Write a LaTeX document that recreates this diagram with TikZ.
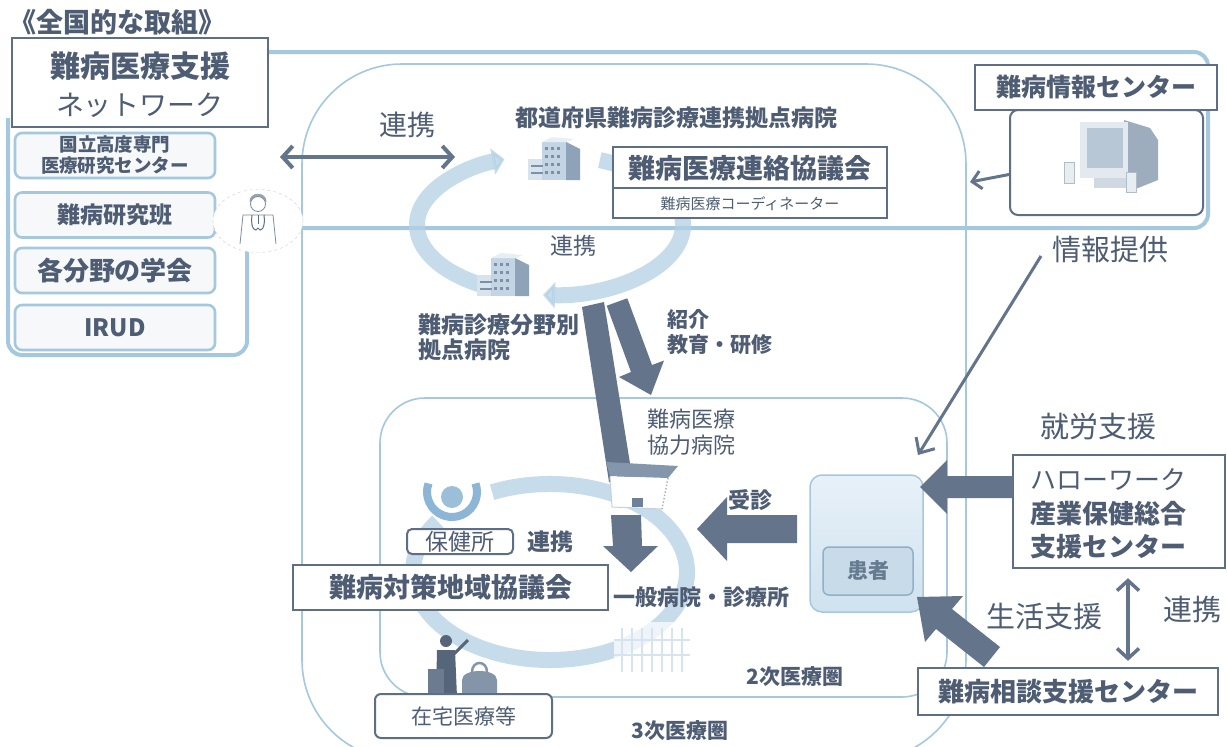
\documentclass[tikz,border=0pt]{standalone}
\usepackage{fontspec}
\setmainfont{Noto Sans CJK JP}
\usetikzlibrary{arrows.meta,shapes.geometric,calc}

\definecolor{ink}{HTML}{4E5D73}
\definecolor{boxline}{HTML}{5E6E85}
\definecolor{fatc}{HTML}{64748B}
\definecolor{sky}{HTML}{A5C8DF}
\definecolor{ringc}{HTML}{B3D1E5}
\definecolor{paper}{HTML}{F6F8FA}
\definecolor{bldgLight}{HTML}{D7E4EE}
\definecolor{bldgMid}{HTML}{C3D5E4}
\definecolor{bldgDark}{HTML}{8EA2B8}
\definecolor{bldgWin}{HTML}{7D90A6}
\definecolor{patTop}{HTML}{E8F1F8}
\definecolor{patBot}{HTML}{CFE2EF}
\definecolor{caseSide}{HTML}{9EADBE}
\definecolor{bezel}{HTML}{E3E9EF}
\definecolor{screenc}{HTML}{B7C7D6}
\definecolor{standc}{HTML}{D0D9E2}
\definecolor{spk}{HTML}{E8EDF2}
\definecolor{spkline}{HTML}{B0BCC8}
\definecolor{hairc}{HTML}{98A4B2}
\definecolor{sketch}{HTML}{7F8C9C}
\definecolor{boxlid}{HTML}{8496AB}
\definecolor{boxedge}{HTML}{C5D0DC}
\definecolor{boxdot}{HTML}{9FB0C2}
\definecolor{boxdark}{HTML}{6F8198}
\definecolor{hcHead}{HTML}{9BBFD9}
\definecolor{hcArc}{HTML}{8DB5D5}
\definecolor{suit}{HTML}{55657A}
\definecolor{caseC}{HTML}{6C7B90}
\definecolor{bagC}{HTML}{8495AA}
\definecolor{patLine}{HTML}{8FB0C8}
\definecolor{patFill}{HTML}{C7DBE9}
\definecolor{patText}{HTML}{667A90}

\newcommand{\fsz}[1]{\fontsize{#1}{#1}\selectfont}

\tikzset{
  bldg/.pic={
    \fill[bldgLight] (-28,-2) rectangle (-6,19);
    \fill[bldgMid] (-14,-19) rectangle (10,19);
    \fill[bldgDark] (10,-19) -- (24,-12) -- (24,19) -- (10,19) -- cycle;
    \fill[bldgLight!60] (-14,-19) -- (-4,-24) -- (18,-22) -- (10,-19) -- cycle;
    \foreach \xx in {-11,-5,1} \foreach \yy in {-14,-6,2,10} \fill[bldgWin] (\xx,\yy) rectangle ++(3,3);
    \foreach \yy in {4,11} \fill[bldgWin] (-25,\yy) rectangle ++(12,2);
  }
}

\begin{document}
\begin{tikzpicture}[x=1pt,y=-1pt,
  lbl/.style={inner sep=0pt, text=ink},
  darkbox/.style={draw=boxline, line width=2.4pt, fill=white, inner sep=0pt, text=ink},
  softbox/.style={draw=sky, line width=2.6pt, fill=paper, rounded corners=7pt, inner sep=0pt,
                  minimum width=200pt, minimum height=45pt, text=ink},
  region/.style={draw=sky, line width=1.6pt},
  band/.style={draw=sky, line width=4pt},
  ringarc/.style={draw=ringc, line width=16pt, opacity=0.75},
  bigarrow/.style={fill=fatc, draw=none},
  slim/.style={draw=fatc, line width=4pt},
  slimthin/.style={draw=fatc, line width=3pt},
  barb/.tip={Straight Barb[length=10pt,width=22pt]},
]
\useasboundingbox (0,0) rectangle (1227,747);
\fill[white] (0,0) rectangle (1227,747);

% ---- regional outlines: tertiary and secondary medical areas
\draw[region, rounded corners=100pt] (302,64) rectangle (966,760);
\draw[region, rounded corners=45pt] (380,398) rectangle (947,697);

% ---- national network band
\draw[band, rounded corners=14pt] (268,52) -- (1208,52) -- (1208,228) -- (247,228) -- (247,355) -- (8,355) -- (8,118);

% ---- cooperation rings
\draw[ringarc, -{Triangle[width=26pt,length=12pt]}] (550,225) ++(120:133 and 70)
  arc[start angle=120, end angle=250, x radius=133, y radius=70];
\draw[ringarc, -{Triangle[width=26pt,length=12pt]}] (550,225) ++(292:133 and 70)
  arc[start angle=292, end angle=453, x radius=133, y radius=70];
\draw[ringarc] (550,572) ++(245:137 and 88)
  arc[start angle=245, end angle=575, x radius=137, y radius=88];

% ---- hospital buildings on the prefecture ring
\pic at (556,161) {bldg};
\pic at (505,277) {bldg};

% ---- faint clinic building on the local ring
\begin{scope}[draw=bldgLight, line width=1.2pt]
  \fill[white, opacity=0.7] (614,622) rectangle (690,673);
  \foreach \xx in {622,632,642,652,662,672,682} \draw (\xx,628) -- (\xx,672);
  \draw (614,640) -- (690,640);
  \draw (614,655) -- (690,655);
\end{scope}

% ---- information centre: body with computer
\node[draw=boxline, line width=2pt, fill=white, rounded corners=8pt, minimum width=193pt,
      minimum height=105pt, inner sep=0pt] (infoBody) at (1106.5,162.5) {};
\fill[caseSide] (1124,120) -- (1150,128) -- (1158,140) -- (1158,180) -- (1128,192) -- cycle;
\fill[bezel] (1080,122) rectangle (1128,178);
\fill[screenc] (1087,128) rectangle (1123,168);
\fill[standc] (1094,178) rectangle (1132,188);
\fill[spk] (1064,162) rectangle (1074,183);
\draw[spkline, line width=0.8pt] (1064,162) rectangle (1074,183);
\fill[spk] (1126,172) rectangle (1136,192);
\draw[spkline, line width=0.8pt] (1126,172) rectangle (1136,192);
\node[darkbox, minimum width=242pt, minimum height=45pt, font=\fsz{25}\bfseries] (infoC) at (1096,87.5) {難病情報センター};
\coordinate (infoTip) at (970,182);
\draw[slimthin, -{Straight Barb[length=9pt,width=18pt]}] ($(infoBody.west)+(0,12)$) -- (infoTip);

% ---- left column: national network
\node[lbl, font=\fsz{27}\bfseries, anchor=west] (title) at (9,22) {《全国的な取組》};
\node[darkbox, minimum width=256pt, minimum height=89pt] (netbox) at (140,82.5) {};
\node[lbl, font=\fsz{30}\bfseries] (netA) at (140,66) {難病医療支援};
\node[lbl, font=\fsz{28}] (netB) at (140,105) {ネットワーク};
\node[softbox, font=\fontsize{18.5}{21}\selectfont\bfseries, align=center] (ncnc) at (115,155.5) {国立高度専門\\医療研究センター};
\node[softbox, font=\fsz{23}\bfseries] (study) at (115,215) {難病研究班};
\node[softbox, font=\fsz{26}\bfseries] (soc) at (115,270.5) {各分野の学会};
\node[softbox, font=\fsz{24}\bfseries] (irud) at (115,327.5) {IRUD};

% ---- doctor portrait
\node[draw=gray!40, dashed, ellipse, fill=white, minimum width=90pt, minimum height=63pt] (doc) at (258,221) {};
\fill[hairc] (249.5,202) .. controls (249,191) and (267,191) .. (266.5,202) -- cycle;
\draw[sketch, fill=white, line width=0.8pt] (258,204) circle (7.5);
\draw[sketch, fill=white, line width=0.8pt] (240,244) -- (243,215) -- (273,215) -- (276,244);
\draw[boxline, line width=1pt] (252,215) .. controls (250,229) and (256,233) .. (258,228);
\draw[boxline, line width=1pt] (264,215) .. controls (266,229) and (260,233) .. (258,228);
\draw[boxline, line width=1pt] (258,215) -- (258,224);

% ---- national cooperation arrow
\coordinate (natL) at (280,157);
\coordinate (natR) at (455,157);
\draw[slim, barb-barb] (natL) -- (natR);
\node[lbl, font=\fsz{28}] (natLink) at (407,125) {連携};

% ---- prefecture level
\node[lbl, font=\fsz{23}\bfseries] (prefHosp) at (676,118) {都道府県難病診療連携拠点病院};
\node[darkbox, minimum width=274pt, minimum height=71pt] (council) at (750,182.5) {};
\draw[boxline, line width=1.8pt] (613,188) -- (887,188);
\node[lbl, font=\fsz{27}\bfseries] (councilT) at (750,168) {難病医療連絡協議会};
\node[lbl, font=\fsz{15}] (coord) at (750,204) {難病医療コーディネーター};
\node[lbl, font=\fsz{23}] (ringLink) at (573,246) {連携};

% ---- referral arrows
\fill[bigarrow] (582,307) -- (604,302) -- (633,482) -- (609,482) -- cycle;
\fill[bigarrow] (606.7,305.7) -- (627.3,298.3) -- (652,365) -- (664,360.5) -- (651,395) -- (619,377) -- (631,372) -- cycle;
\fill[bigarrow] (611,515) -- (641,515) -- (642,546) -- (658,546) -- (631,572) -- (603,546) -- (613,546) -- cycle;

% ---- cooperating hospital (box building)
\fill[white] (610,476) -- (668,478) -- (662,509) -- (612,507) -- cycle;
\draw[boxedge, line width=1pt] (610,476) -- (612,507) -- (662,509);
\draw[boxdot, line width=1.4pt, dotted] (668,478) -- (662,509);
\fill[boxlid] (606,462) -- (678,466) -- (668,478) -- (610,476) -- cycle;
\fill[boxdark] (632,498) rectangle (643,507);

\node[lbl, font=\fontsize{23}{25}\selectfont\bfseries, align=left, anchor=west] (bunya) at (418,337.5) {難病診療分野別\\拠点病院};
\node[lbl, font=\fontsize{21}{25}\selectfont\bfseries, align=left, anchor=west] (shokai) at (667,332) {紹介\\教育・研修};
\node[lbl, font=\fontsize{22}{26}\selectfont, align=left, anchor=west] (kyoryoku) at (647,432) {難病医療\\協力病院};

% ---- health centre icon
\fill[hcHead] (452,497) circle (11);
\draw[hcArc, line width=8pt] (452,492) ++(200:25) arc[start angle=200, end angle=-20, radius=25];

% ---- local level
\node[draw=boxline, line width=2pt, rounded corners=5pt, fill=white, minimum width=106pt,
      minimum height=25pt, inner sep=0pt, font=\fsz{23}, text=ink] (hoken) at (460,541.5) {保健所};
\node[lbl, font=\fsz{23}\bfseries] (localLink) at (550,542) {連携};
\node[darkbox, minimum width=315pt, minimum height=45pt, font=\fsz{27}\bfseries] (localC) at (450.5,587.5) {難病対策地域協議会};
\node[lbl, font=\fsz{22}\bfseries] (general) at (701,597) {一般病院・診療所};

% ---- home care figures
\fill[suit] (446,641) circle (6);
\fill[suit] (437,650) -- (455,650) -- (457,697) -- (436,697) -- cycle;
\draw[suit, line width=3pt] (454,654) -- (468,640);
\fill[caseC] (428,669) rectangle (444,697);
\fill[bagC] (462,697) -- (462,680) .. controls (462,668) and (497,668) .. (497,680) -- (497,697) -- cycle;
\draw[bagC, line width=2.5pt] (472,672) .. controls (472,660) and (487,660) .. (487,672);
\node[draw=boxline, line width=2pt, rounded corners=6pt, fill=white, minimum width=177pt,
      minimum height=44pt, inner sep=0pt, font=\fsz{21}, text=ink] (home) at (463.5,716) {在宅医療等};

\node[lbl, font=\fsz{21}\bfseries] (tertiary) at (680,731) {3次医療圏};
\node[lbl, font=\fsz{21}\bfseries] (secondary) at (795,677) {2次医療圏};

% ---- patient
\node[draw=sky, line width=1.5pt, rounded corners=12pt, top color=patTop, bottom color=patBot,
      minimum width=113pt, minimum height=137pt, inner sep=0pt] (patient) at (866.5,543.5) {};
\node[draw=patLine, line width=1.5pt, rounded corners=6pt, fill=patFill, minimum width=90pt,
      minimum height=48pt, inner sep=0pt, font=\fsz{21}\bfseries, text=patText] (patientLbl) at (868,571) {患者};

% ---- consultation arrow into the patient
\fill[bigarrow] (797,515) -- (727,515) -- (727,497) -- (697,529) -- (727,561) -- (727,543) -- (797,543) -- cycle;
\node[lbl, font=\fsz{22}\bfseries] (jushin) at (750,500) {受診};

% ---- information provision
\node[lbl, font=\fsz{29}] (infoProv) at (1110,250) {情報提供};
\coordinate (provTail) at (1041,256);
\coordinate (patIn) at (918,455);
\draw[slimthin, -{Straight Barb[length=12pt,width=22pt]}] (provTail) -- (patIn);

% ---- employment support
\node[lbl, font=\fsz{29}] (work) at (1098,427) {就労支援};
\node[darkbox, minimum width=212pt, minimum height=113pt] (hello) at (1119,511.5) {};
\node[lbl, font=\fontsize{26}{33.5}\selectfont, align=left, anchor=west] (helloT) at (1030,514)
  {ハローワーク\\\textbf{産業保健総合}\\\textbf{支援センター}};
\fill[bigarrow] (1013,476) -- (947,476) -- (947,460) -- (920,487) -- (947,514) -- (947,498) -- (1013,498) -- cycle;

% ---- living support
\node[darkbox, minimum width=300pt, minimum height=47pt, font=\fsz{26}\bfseries] (consult) at (1068,691.5) {難病相談支援センター};
\fill[bigarrow] (1000,647) -- (952,609) -- (963,596) -- (917,597) -- (925,642) -- (936,629) -- (984,667) -- cycle;
\node[lbl, font=\fsz{29}] (life) at (1044,617) {生活支援};
\path (hello.south) ++(9,9) coordinate (linkTop);
\path (consult.north) ++(60,-6) coordinate (linkBot);
\draw[slim, line width=3.5pt, barb-barb] (linkTop) -- (linkBot);
\node[lbl, font=\fsz{29}] (helloLink) at (1192,610) {連携};

\end{tikzpicture}
\end{document}
